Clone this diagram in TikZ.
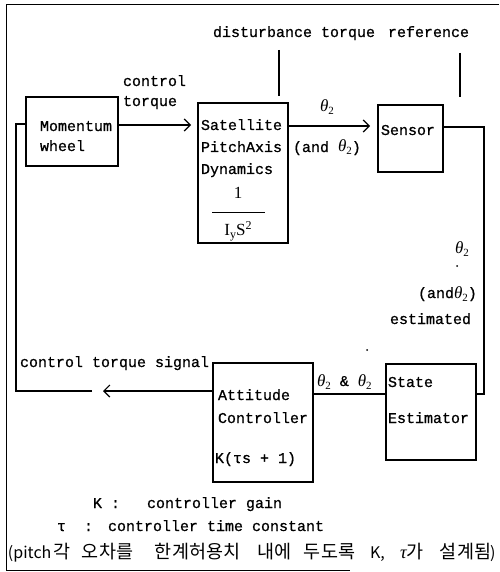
\documentclass[tikz,border=0pt]{standalone}
\usepackage{fontspec}
\setmonofont[FakeBold=0.8]{Liberation Mono}
\newfontfamily\serf{Liberation Serif}
\newfontfamily\cjk{Noto Sans CJK KR}
\usetikzlibrary{arrows.meta}
\newcommand\kw[2]{\makebox[#1pt][l]{#2}}
\newcommand\thtwo{{\serf\itshape\fontsize{17}{18}\selectfont θ}\raisebox{-3pt}{\serf\fontsize{11}{11}\selectfont 2}}
\begin{document}
\begin{tikzpicture}[x=1pt,y=-1pt,
  font=\fontsize{15}{18}\selectfont\ttfamily,
  every node/.style={inner sep=0pt, outer sep=0pt},
  box/.style={draw, line width=1.2pt, anchor=north west},
  txt/.style={anchor=base west},
  ln/.style={line width=1.2pt},
  arr/.style={line width=1.2pt, -{Straight Barb[length=6pt,width=12pt]}}]
\useasboundingbox (0,0) rectangle (499,572);

% frame
\coordinate (f1) at (499,5);
\coordinate (f2) at (6,5);
\coordinate (f3) at (6,570);
\coordinate (f4) at (350,570);
\draw[line width=1pt] (f1) -- (f2) -- (f3) -- (f4);

% boxes
\node[box, minimum width=92pt, minimum height=69pt] (mw) at (26,97) {};
\node[box, minimum width=90pt, minimum height=140pt] (sat) at (198,103) {};
\node[box, minimum width=65pt, minimum height=67pt] (sen) at (378,105) {};
\node[box, minimum width=90pt, minimum height=96pt] (est) at (386,364) {};
\node[box, minimum width=100pt, minimum height=119pt] (ctl) at (213,363) {};

% box texts
\node[txt] (tmw1) at (40,131) {Momentum};
\node[txt] (tmw2) at (40,151) {wheel};
\node[txt] (ts1) at (201,130) {Satellite};
\node[txt] (ts2) at (201,152) {PitchAxis};
\node[txt] (ts3) at (201,174) {Dynamics};
\node[font=\fontsize{17}{18}\selectfont\serf] (tone) at (238,193) {1};
\coordinate (fb1) at (212,212);
\coordinate (fb2) at (265,212);
\draw[line width=1pt] (fb1) -- (fb2);
\node[font=\fontsize{17}{18}\selectfont\serf] (tiy) at (238,231)
  {I\raisebox{-3pt}{\fontsize{12}{12}\selectfont y}S\raisebox{6pt}{\fontsize{12}{12}\selectfont 2}};
\node[txt] (tsen) at (381,135) {Sensor};
\node[txt] (te1) at (388,387) {State};
\node[txt] (te2) at (388,423) {Estimator};
\node[txt] (tc1) at (218,400) {Attitude};
\node[txt] (tc2) at (218,423) {Controller};
\node[txt] (tc3) at (215,463) {K(τs + 1)};

% helper y-levels
\coordinate (y125) at (0,125);
\coordinate (y126) at (0,126);
\coordinate (y127) at (0,127);
\coordinate (y124) at (0,124);
\coordinate (y391) at (0,391);
\coordinate (y394) at (0,394);

% connectors
\draw[arr, shorten >=7pt] (mw.east |- y125) -- (sat.west |- y125);
\draw[arr, shorten >=8pt] (sat.east |- y126) -- (sen.west |- y126);
\coordinate (rt) at (484,127);
\coordinate (rb) at (484,394);
\draw[ln] (sen.east |- y127) -- (rt) -- (rb) -- (est.east |- y394);
\draw[ln] (est.west |- y394) -- (ctl.east |- y394);
\coordinate (ctip) at (103,391);
\draw[arr] (ctl.west |- y391) -- (ctip);
\coordinate (cl1) at (92,391);
\coordinate (cl2) at (16,391);
\coordinate (cl3) at (16,124);
\draw[ln] (cl1) -- (cl2) -- (cl3) -- (mw.west |- y124);

% input lines
\coordinate (d1) at (279,50);
\coordinate (d2) at (279,96);
\draw[ln] (d1) -- (d2);
\coordinate (r1) at (460,53);
\coordinate (r2) at (460,97);
\draw[ln] (r1) -- (r2);

% labels
\node[txt] (ldist) at (213,37) {disturbance torque};
\node[txt] (lref) at (388,37) {reference};
\node[txt] (lct1) at (123,86) {control};
\node[txt] (lct2) at (123,106) {torque};
\node[txt] (lth) at (320,112) {\thtwo};
\node[txt] (land) at (293,152) {(and \thtwo)};
\node[txt] (lth2) at (455,253) {\thtwo};
\fill (457,266) circle (1pt);
\node[txt] (land2) at (418,298) {(and\thtwo)};
\node[txt] (lest) at (390,324) {estimated};
\fill (367,350) circle (1pt);
\node[txt] (lthth) at (317,386) {\thtwo\ \& \thtwo};
\node[txt] (lcts) at (20,367) {control torque signal};

% caption
\node[txt] (k1) at (93,508) {K};
\node[txt] (k2) at (111,508) {:};
\node[txt] (k3) at (147,508) {controller gain};
\node[txt] (tau1) at (57,531) {τ};
\node[txt] (tau2) at (84,531) {:};
\node[txt] (tau3) at (108,531) {controller time constant};
\node[txt, font=\fontsize{18.5}{22}\selectfont\cjk] (kor) at (8,558)
  {\kw{45}{\fontsize{16}{20}\selectfont(pitch}\kw{29}{각}\kw{73}{오차를}\kw{102}{한계허용치}\kw{47}{내에}\kw{66}{두도록}\kw{30}{\fontsize{16}{20}\selectfont K,}\kw{40}{{\serf\itshape τ}가}\kw{50}{설계됨}{\fontsize{16}{20}\selectfont)}};
\end{tikzpicture}
\end{document}
